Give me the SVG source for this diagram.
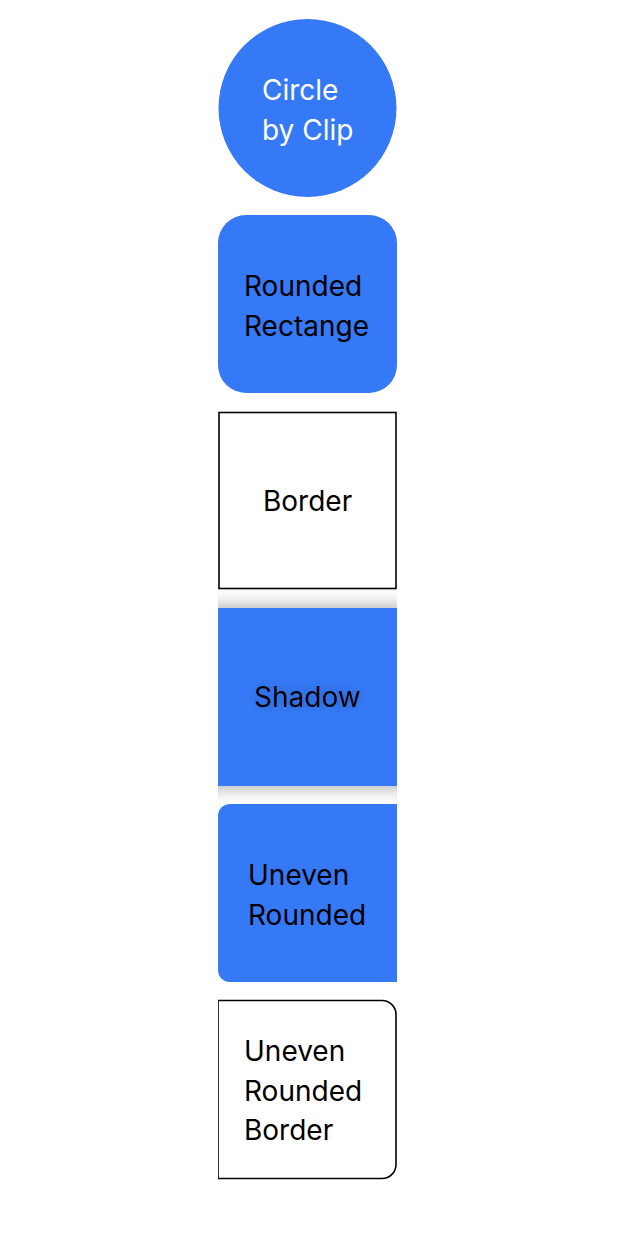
<svg xmlns="http://www.w3.org/2000/svg" width="626" height="1258" viewBox="0 0 626 1258">
<style>
.lbl{font-family:Inter,"Liberation Sans",sans-serif;font-size:28px;fill:#000}
.w{fill:#fff}
.blue{fill:#3579F6}
</style>
<defs>
<clipPath id="col"><rect x="218" y="0" width="179" height="1258"/></clipPath>
<filter id="sh" x="-30%" y="-40%" width="160%" height="180%"><feGaussianBlur stdDeviation="10"/></filter>
<filter id="tsh" x="-30%" y="-60%" width="160%" height="220%"><feGaussianBlur in="SourceAlpha" stdDeviation="6" result="b"/><feComponentTransfer in="b" result="c"><feFuncA type="linear" slope="0.25"/></feComponentTransfer><feMerge><feMergeNode in="c"/><feMergeNode in="SourceGraphic"/></feMerge></filter>
</defs>
<rect width="626" height="1258" fill="#fff"/>
<g id="circle">
<circle class="blue" cx="307.5" cy="108" r="89"/>
<text class="lbl w" x="262" y="100">Circle</text>
<text class="lbl w" x="262" y="140">by Clip</text>
</g>
<g id="rounded">
<rect class="blue" x="218" y="215" width="179" height="178" rx="28"/>
<text class="lbl" x="244" y="296">Rounded</text>
<text class="lbl" x="244" y="336">Rectange</text>
</g>
<g id="border">
<rect x="219" y="412.5" width="177" height="176" fill="#fff" stroke="#000" stroke-width="1.6"/>
<text class="lbl" x="263" y="511">Border</text>
</g>
<g id="shadow">
<g clip-path="url(#col)"><rect x="198" y="608" width="219" height="178" fill="#000" opacity="0.38" filter="url(#sh)"/></g>
<rect class="blue" x="218" y="608" width="179" height="178"/>
<text class="lbl" x="254" y="707" filter="url(#tsh)">Shadow</text>
</g>
<g id="uneven">
<path class="blue" d="M230 804H397V982H230A12 12 0 0 1 218 970V816A12 12 0 0 1 230 804Z"/>
<text class="lbl" x="248" y="885">Uneven</text>
<text class="lbl" x="248" y="925">Rounded</text>
</g>
<g id="uneven-border">
<g clip-path="url(#col)"><path d="M218 1000.5H382A14 14 0 0 1 396 1014.5V1164.5A14 14 0 0 1 382 1178.5H218Z" fill="#fff" stroke="#000" stroke-width="1.6"/></g>
<text class="lbl" x="244" y="1061">Uneven</text>
<text class="lbl" x="244" y="1101">Rounded</text>
<text class="lbl" x="244" y="1140">Border</text>
</g>
</svg>
